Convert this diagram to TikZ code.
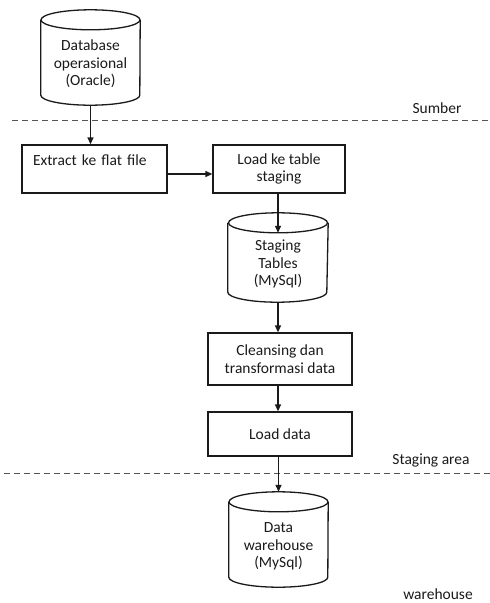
\documentclass[tikz,border=0pt]{standalone}
\usepackage{fontspec}
\setmainfont{Carlito}
\usepackage{xcolor}
\usetikzlibrary{arrows.meta}
\definecolor{ink}{HTML}{1A1A1A}
\definecolor{rule}{HTML}{555555}
\newcommand{\boxfont}{\fontsize{15.5}{17.5}\selectfont}
% text inside a drum sits below the top cap
\newcommand{\storetext}[1]{\raisebox{-7pt}[\height][\depth]{\begin{tabular}{@{}c@{}}#1\end{tabular}}}
% drum outline round a store node: full top cap, sides, lower half of the base
\newcommand{\drum}[1]{%
  \draw[drumline] ([yshift=-10pt]#1.north) ellipse [x radius=49.5pt, y radius=10pt];
  \draw[drumline] ([yshift=-10pt]#1.north west) -- ([yshift=10pt]#1.south west)
    arc [start angle=180, end angle=360, x radius=49.5pt, y radius=10pt]
    -- ([yshift=-10pt]#1.north east);}
\tikzset{
  store/.style={rectangle, minimum width=99pt, minimum height=95pt, inner sep=0pt},
  drumline/.style={draw=ink, line width=1.3pt},
  proc/.style={rectangle, draw=ink, line width=1.3pt, align=center},
  flow/.style={draw=ink, line width=1.3pt, -{Triangle[length=7pt,width=6pt]}},
  zone/.style={draw=rule, dashed, dash pattern=on 6pt off 4pt, line width=0.9pt},
  labz/.style={text=ink, inner sep=0pt},
  every node/.style={text=ink, font=\boxfont}
}

\begin{document}
\begin{tikzpicture}[x=1pt, y=-1pt]
  \useasboundingbox (0,0) rectangle (490,603);

  % source
  \node[store] (oltp) at (90.5,57.5) {\storetext{Database\\operasional\\(Oracle)}};
  \drum{oltp}
  \draw[zone] (12,120) -- (490,120);
  \node[labz] (sumber) at (437,108) {Sumber};

  % staging area
  \node[proc, minimum width=145pt, minimum height=48pt, text width=123pt,
        inner xsep=11pt, align=left] (extract) at (94.5,169) {Extract ke flat file\\\mbox{}};
  \node[proc, minimum width=132pt, minimum height=48pt] (loadstg) at (279,169) {Load ke table\\staging};
  \node[store, minimum width=100pt, minimum height=89pt] (stgtab) at (278,257.5) {\storetext{Staging\\Tables\\(MySql)}};
  \drum{stgtab}
  \node[proc, minimum width=144pt, minimum height=52pt] (cleanse) at (280,359) {Cleansing dan\\transformasi data};
  \node[proc, minimum width=144pt, minimum height=44pt] (loaddw) at (280,434) {Load data};
  \draw[zone] (4,473) -- (490,473);
  \node[labz] (stgarea) at (431,460) {Staging area};

  % warehouse
  \node[store] (dw) at (278.5,539.5) {\storetext{Data\\warehouse\\(MySql)}};
  \drum{dw}
  \node[labz] (whlab) at (438,594) {warehouse};

  % data flow
  \draw[flow] (oltp.south) -- (oltp.south |- extract.north);
  \draw[flow] ([yshift=-5pt]extract.east) -- ([yshift=-5pt]extract.east -| loadstg.west);
  \draw[flow] (loadstg.south -| stgtab.center) -- ([yshift=-20pt]stgtab.north);
  \draw[flow] (stgtab.south) -- (stgtab.south |- cleanse.north);
  \draw[flow] (cleanse.south -| stgtab.center) -- (loaddw.north -| stgtab.center);
  \draw[flow] (loaddw.south -| dw.center) -- (dw.north);
\end{tikzpicture}
\end{document}
